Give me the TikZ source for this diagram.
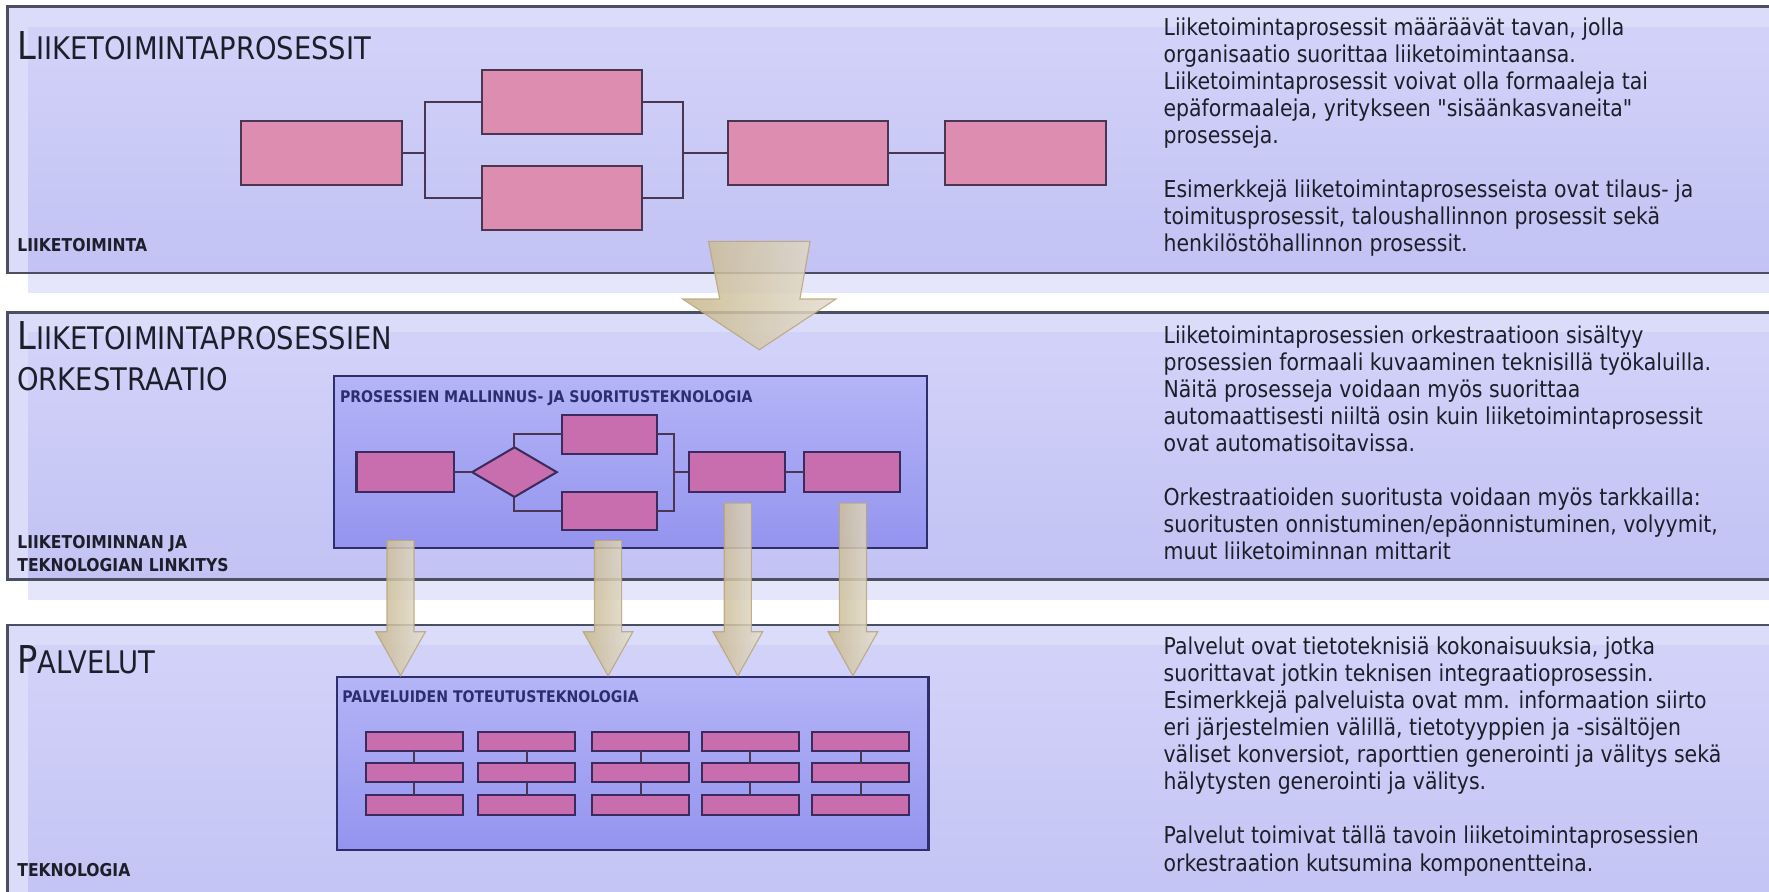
\documentclass[tikz,border=0pt]{standalone}
\usepackage{fontspec}
\setmainfont{DejaVu Sans}[FakeStretch=0.88]
\newfontface\qfont{DejaVu Sans}[FakeStretch=0.88,Ligatures=TeXOff]
\usetikzlibrary{shapes.geometric}
\definecolor{bandA}{HTML}{D2D2F9}
\definecolor{bandB}{HTML}{C2C2F4}
\definecolor{bandstrip}{HTML}{DBDBFA}
\definecolor{bandshadow}{HTML}{E6E6FB}
\definecolor{bandline}{HTML}{4C4F60}
\definecolor{pinkA}{HTML}{DD8DB0}
\definecolor{pborder}{HTML}{4A3552}
\definecolor{magA}{HTML}{C86EAE}
\definecolor{mborder}{HTML}{3A2A5E}
\definecolor{iboxA}{HTML}{B4B4F7}
\definecolor{iboxB}{HTML}{9494EF}
\definecolor{iborder}{HTML}{2E2E6A}
\definecolor{arrA}{HTML}{C8B78C}
\definecolor{arrB}{HTML}{E4DED0}
\definecolor{arrline}{HTML}{B8A57A}
\definecolor{txt}{HTML}{1E1E2A}
\definecolor{ilabc}{HTML}{2C2C70}
\tikzset{
  pbox/.style={draw=pborder, fill=pinkA, line width=0.9pt, inner sep=0pt, outer sep=0pt, minimum width=71pt, minimum height=28.5pt},
  mbox/.style={draw=mborder, fill=magA, line width=0.9pt, inner sep=0pt, outer sep=0pt},
  brick/.style={mbox, minimum width=43pt, minimum height=8.5pt},
  conn/.style={draw=pborder, line width=0.9pt},
  ibox/.style={draw=iborder, line width=0.9pt, top color=iboxA, bottom color=iboxB, inner sep=0pt, outer sep=0pt},
  bandborder/.style={draw=bandline, line width=1.3pt},
  desc/.style={anchor=north west, inner sep=0pt, align=left, text=txt, font=\fontsize{10.3}{12}\selectfont},
  sublab/.style={anchor=base west, inner sep=0pt, text=txt, font=\bfseries\fontsize{7.85}{10.5}\selectfont},
  ilab/.style={anchor=base west, inner sep=0pt, text=ilabc, font=\bfseries\fontsize{7.1}{9}\selectfont},
  ttl/.style={anchor=base west, inner sep=0pt, text=txt},
  blockarrow/.style={left color=arrA, right color=arrB, draw=arrline, line width=0.5pt, opacity=0.85}
}
\newcommand{\bigL}[1]{{\fontsize{17}{20}\selectfont #1}}
\newcommand{\smcap}[1]{{\fontsize{13.8}{18}\selectfont #1}}
\newcommand{\mysmallarrow}[2]{%
  \path[blockarrow] (#1-12,#2) -- (#1+12,#2) -- (#1+12,560) -- (#1+22,560) -- (#1,599) -- (#1-22,560) -- (#1-12,560) -- cycle;}
\begin{document}
\begin{tikzpicture}[x=0.5pt,y=-0.5pt]
\useasboundingbox (0,0) rectangle (1568,790);
\clip (0,0) rectangle (1568,790);
\fill[white] (0,0) rectangle (1568,790);

% ---------- band 1
\fill[bandshadow] (25,24) rectangle (1600,260);
\fill[bandstrip] (7,6) rectangle (1600,242);
\shade[top color=bandA, bottom color=bandB] (25,24) rectangle (1600,242);
\draw[bandborder] (7,6) rectangle (1600,242);
% ---------- band 2
\fill[bandshadow] (25,295) rectangle (1600,532);
\fill[bandstrip] (7,277) rectangle (1600,514);
\shade[top color=bandA, bottom color=bandB] (25,295) rectangle (1600,514);
\draw[bandborder] (7,277) rectangle (1600,514);
% ---------- band 3
\fill[bandshadow] (25,572) rectangle (1600,848);
\fill[bandstrip] (7,554) rectangle (1600,830);
\shade[top color=bandA, bottom color=bandB] (25,572) rectangle (1600,830);
\draw[bandborder] (7,554) rectangle (1600,830);

% ---------- titles
\node[ttl] (h1) at (15,53) {\bigL{L}\smcap{IIKETOIMINTAPROSESSIT}};
\node[sublab] (s1) at (15,223) {LIIKETOIMINTA};
\node[ttl] (h2) at (15,310) {\bigL{L}\smcap{IIKETOIMINTAPROSESSIEN}};
\node[ttl] (h2b) at (15,346) {\smcap{ORKESTRAATIO}};
\node[sublab] (s2) at (15,486) {LIIKETOIMINNAN JA};
\node[sublab] (s2b) at (15,507) {TEKNOLOGIAN LINKITYS};
\node[ttl] (h3) at (15,597) {\bigL{P}\smcap{ALVELUT}};
\node[sublab] (s3) at (15,777) {TEKNOLOGIA};

% ---------- descriptions
\node[desc] (d1) at (1031,15) {Liiketoimintaprosessit määräävät tavan, jolla\\
organisaatio suorittaa liiketoimintaansa.\\
Liiketoimintaprosessit voivat olla formaaleja tai\\
epäformaaleja, yritykseen {\qfont"}sisäänkasvaneita{\qfont"}\\
prosesseja.\\[12pt]
Esimerkkejä liiketoimintaprosesseista ovat tilaus- ja\\
toimitusprosessit, taloushallinnon prosessit sekä\\
henkilöstöhallinnon prosessit.};
\node[desc] (d2) at (1031,288) {Liiketoimintaprosessien orkestraatioon sisältyy\\
prosessien formaali kuvaaminen teknisillä työkaluilla.\\
Näitä prosesseja voidaan myös suorittaa\\
automaattisesti niiltä osin kuin liiketoimintaprosessit\\
ovat automatisoitavissa.\\[12pt]
Orkestraatioiden suoritusta voidaan myös tarkkailla:\\
suoritusten onnistuminen/epäonnistuminen, volyymit,\\
muut liiketoiminnan mittarit};
\node[desc] (d3) at (1031,564) {Palvelut ovat tietoteknisiä kokonaisuuksia, jotka\\
suorittavat jotkin teknisen integraatioprosessin.\\
Esimerkkejä palveluista ovat mm. informaation siirto\\
eri järjestelmien välillä, tietotyyppien ja -sisältöjen\\
väliset konversiot, raporttien generointi ja välitys sekä\\
hälytysten generointi ja välitys.\\[12pt]
Palvelut toimivat tällä tavoin liiketoimintaprosessien\\
orkestraation kutsumina komponentteina.};

% ---------- band 1 process
\node[pbox] (t1) at (285,135.5) {};
\node[pbox] (t2) at (498,90.5) {};
\node[pbox] (t3) at (498,175.5) {};
\node[pbox] (t4) at (716,135.5) {};
\node[pbox] (t5) at (909,135.5) {};
\coordinate (f1) at (377,135.5);
\coordinate (f2) at (605,135.5);
\draw[conn] (t1.east) -- (f1);
\draw[conn] (f1) |- (t2.west);
\draw[conn] (f1) |- (t3.west);
\draw[conn] (t2.east) -| (f2);
\draw[conn] (t3.east) -| (f2);
\draw[conn] (f2) -- (t4.west);
\draw[conn] (t4.east) -- (t5.west);

% ---------- band 2 inner box
\node[ibox, minimum width=263pt, minimum height=76.5pt] (pm) at (559,409.5) {};
\node[ilab] (pml) at (301,357) {PROSESSIEN MALLINNUS- JA SUORITUSTEKNOLOGIA};
\node[mbox, minimum width=43pt, minimum height=17.5pt] (a) at (359,418.5) {};
\node[mbox, diamond, aspect=1.7, minimum width=37.5pt, minimum height=22pt] (dm) at (456,418.5) {};
\node[mbox, minimum width=42pt, minimum height=17pt] (b) at (540,385) {};
\node[mbox, minimum width=42pt, minimum height=17pt] (c) at (540,453) {};
\node[mbox, minimum width=42.5pt, minimum height=17.5pt] (dd) at (653.5,418.5) {};
\node[mbox, minimum width=42.5pt, minimum height=17.5pt] (e) at (755.5,418.5) {};
\coordinate (f3) at (597,418.5);
\draw[conn] (a.east) -- (dm.west);
\draw[conn] (dm.north) |- (b.west);
\draw[conn] (dm.south) |- (c.west);
\draw[conn] (b.east) -| (f3);
\draw[conn] (c.east) -| (f3);
\draw[conn] (f3) -- (dd.west);
\draw[conn] (dd.east) -- (e.west);

% ---------- band 3 inner box
\node[ibox, minimum width=262pt, minimum height=76.5pt] (pt) at (561,676.5) {};
\node[ilab] (ptl) at (303,623) {PALVELUIDEN TOTEUTUSTEKNOLOGIA};
\foreach \i/\cx in {1/367,2/467,3/568,4/665,5/763}{
  \node[brick] (r1\i) at (\cx,657) {};
  \node[brick] (r2\i) at (\cx,685) {};
  \node[brick] (r3\i) at (\cx,713.5) {};
  \draw[conn] (r1\i.south) -- (r2\i.north);
  \draw[conn] (r2\i.south) -- (r3\i.north);
}

% ---------- block arrows
\path[blockarrow] (628,214) -- (718,214) -- (709,265) -- (741,265) -- (673,310) -- (605,265) -- (638,265) -- cycle;
\mysmallarrow{355}{479}
\mysmallarrow{539}{479}
\mysmallarrow{654}{446}
\mysmallarrow{756}{446}
\end{tikzpicture}
\end{document}
